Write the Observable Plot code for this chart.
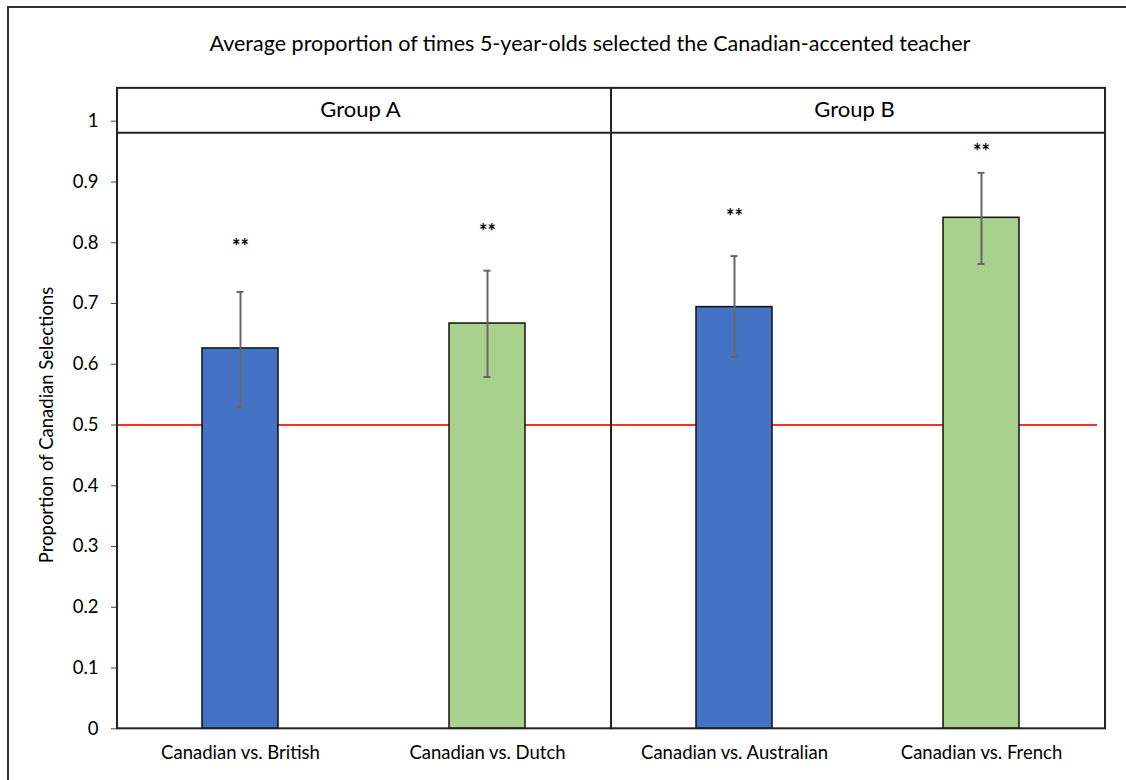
<!DOCTYPE html>
<html>
<head>
<meta charset="utf-8">
<script src="https://cdn.jsdelivr.net/npm/d3@7"></script>
<script src="https://cdn.jsdelivr.net/npm/@observablehq/plot@0.6"></script>
<style>
  html, body { margin: 0; padding: 0; background: #fff; overflow: hidden; }
  body { width: 1126px; height: 780px; position: relative; font-family: Lato, "Noto Sans", sans-serif; }
  #frame { position: absolute; left: 7px; top: 6px; width: 1300px; height: 900px;
           border-left: 2px solid #333; border-top: 2px solid #333; pointer-events: none; }
  #title { height: 70px; box-sizing: border-box; padding-top: 30px; padding-left: 54px;
           text-align: center; font-size: 21.5px; color: #000; line-height: 26px; }
  #chart svg { display: block; }
</style>
</head>
<body>
<div id="title">Average proportion of times 5-year-olds selected the Canadian-accented teacher</div>
<div id="chart"></div>
<div id="frame"></div>
<script>
// ---- data ----
const categories = ["Canadian vs. British", "Canadian vs. Dutch", "Canadian vs. Australian", "Canadian vs. French"];
const groups = ["A", "A", "B", "B"];
const slots = ["1", "2", "1", "2"];
const means = [0.626, 0.667, 0.694, 0.841];
const lower = [0.529, 0.579, 0.612, 0.765];
const upper = [0.719, 0.754, 0.778, 0.915];
const stars = ["**", "**", "**", "**"];
const starY = [0.800, 0.825, 0.849, 0.956];
const barColors = ["#4472C4", "#A9D18E", "#4472C4", "#A9D18E"];
const groupNames = ["A", "B"];
const groupLabels = ["Group A", "Group B"];
const yTicks = [0, 0.1, 0.2, 0.3, 0.4, 0.5, 0.6, 0.7, 0.8, 0.9, 1];
const yTickLabels = ["0", "0.1", "0.2", "0.3", "0.4", "0.5", "0.6", "0.7", "0.8", "0.9", "1"];
const yTitle = "Proportion of Canadian Selections";
const chanceLevel = 0.5;
// header band bounds (in y units, as drawn in the original)
const headerBottom = 0.981;
const headerTop = 1.054;

const data = categories.map((c, i) => ({
  category: c, group: groups[i], slot: slots[i], mean: means[i],
  lo: lower[i], hi: upper[i], star: stars[i], starY: starY[i], color: barColors[i]
}));
const groupData = groupNames.map((g, i) => ({group: g, label: groupLabels[i]}));
const tickData = yTicks.map((v, i) => ({group: groupNames[0], v, label: yTickLabels[i]}));

const lineColor = "#222";

const chart = Plot.plot({
  width: 1126,
  height: 710,
  marginTop: 50.7,
  marginBottom: 51.7,
  marginLeft: 117,
  marginRight: 21,
  style: {fontFamily: "Lato, 'Noto Sans', sans-serif", fontSize: "16px", color: "#000", background: "transparent"},
  fx: {domain: groupNames, padding: 0, axis: null},
  x: {domain: ["1", "2"], paddingInner: 0.692, paddingOuter: 0.346, axis: null},
  y: {domain: [0, 1], axis: null},
  color: {type: "identity"},
  marks: [
    Plot.axisY({ticks: yTicks, tickFormat: () => "", tickSize: 6, label: null, stroke: "#444"}),
    Plot.text(tickData, {fx: "group", y: "v", text: "label", frameAnchor: "left", textAnchor: "end", dx: -19, fontSize: 18.5}),
    Plot.ruleY([{group: "A", v: chanceLevel}], {fx: "group", y: "v", stroke: "#FF2A2A", strokeWidth: 2}),
    Plot.ruleY([{group: "B", v: chanceLevel}], {fx: "group", y: "v", stroke: "#FF2A2A", strokeWidth: 2, insetRight: 8}),
    Plot.barY(data, {fx: "group", x: "slot", y: "mean", fill: "color", stroke: "#111", strokeWidth: 1.5}),
    Plot.ruleX(data, {fx: "group", x: "slot", y1: "lo", y2: "hi", stroke: "#666", strokeWidth: 2}),
    Plot.tickY(data, {fx: "group", x: "slot", y: "hi", stroke: "#666", strokeWidth: 2, insetLeft: 34.5, insetRight: 34.5}),
    Plot.tickY(data, {fx: "group", x: "slot", y: "lo", stroke: "#666", strokeWidth: 2, insetLeft: 34.5, insetRight: 34.5}),
    Plot.text(data, {fx: "group", x: "slot", y: "starY", text: "star", fontWeight: "bold", fontSize: 20, dy: 5}),
    Plot.text(data, {fx: "group", x: "slot", text: "category", frameAnchor: "bottom", lineAnchor: "middle", dy: 24, fontSize: 18.5}),
    Plot.rect(groupData, {fx: "group", y1: 0, y2: headerTop, fill: "none", stroke: lineColor, strokeWidth: 2}),
    Plot.ruleY(groupData, {fx: "group", y: () => headerBottom, stroke: lineColor, strokeWidth: 2}),
    Plot.text(groupData, {fx: "group", y: (headerBottom + headerTop) / 2, text: "label", fontSize: 22, lineAnchor: "middle", dx: -4, dy: -1}),
    Plot.text([{group: "A", t: yTitle}], {fx: "group", text: "t", frameAnchor: "left", textAnchor: "middle", rotate: -90, dx: -70, fontSize: 18.5})
  ]
});
document.getElementById("chart").appendChild(chart);
</script>
</body>
</html>
